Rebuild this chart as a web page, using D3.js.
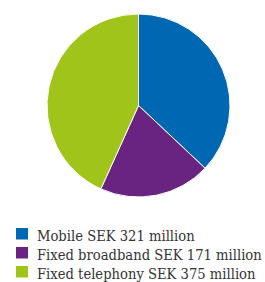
<!DOCTYPE html>
<html lang="en">
<head>
    <meta charset="UTF-8">
    <title>Revenue split</title>
    <script src="https://d3js.org/d3.v7.min.js"></script>
    <style>
        body { margin: 0; background: #fff; }
        svg { display: block; }
    </style>
</head>
<body>
    <div id="chart"></div>
    <script>
        const width = 265;
        const height = 282;

        // Data
        const categories = ["Mobile", "Fixed broadband", "Fixed telephony"];
        const values = [321, 171, 375];
        const labels = ["Mobile SEK 321 million", "Fixed broadband SEK 171 million", "Fixed telephony SEK 375 million"];
        const colors = ["#0068b2", "#692380", "#a1c41a"];

        const svg = d3.select("#chart")
                      .append("svg")
                      .attr("width", width)
                      .attr("height", height);

        const color = d3.scaleOrdinal().domain(categories).range(colors);

        const pie = d3.pie().sort(null).value(d => d.value);
        const arc = d3.arc().innerRadius(0).outerRadius(91.5);

        const data = categories.map((c, i) => ({ name: c, value: values[i], label: labels[i] }));

        svg.append("g")
           .attr("transform", "translate(138.5,105.5)")
           .selectAll("path")
           .data(pie(data))
           .enter()
           .append("path")
           .attr("d", arc)
           .style("fill", d => color(d.data.name))
           .style("stroke", "#fff")
           .style("stroke-width", 1);

        // Legend
        const legend = svg.append("g")
                          .selectAll("g")
                          .data(data)
                          .enter()
                          .append("g")
                          .attr("transform", (d, i) => `translate(16,${228 + i * 19})`);

        legend.append("rect")
              .attr("width", 12)
              .attr("height", 11.5)
              .style("fill", d => color(d.name));

        const labelText = legend.append("text")
              .style("font-family", "'DejaVu Serif', serif")
              .style("font-size", "14.5px")
              .style("fill", "#333")
              .text(d => d.label);

        // squeeze the text so the widest label ends near the right edge
        const widest = d3.max(labelText.nodes(), n => n.getComputedTextLength());
        const sx = 225 / widest;
        labelText.attr("transform", `translate(21,12.5) scale(${sx},1)`);
    </script>
</body>
</html>
